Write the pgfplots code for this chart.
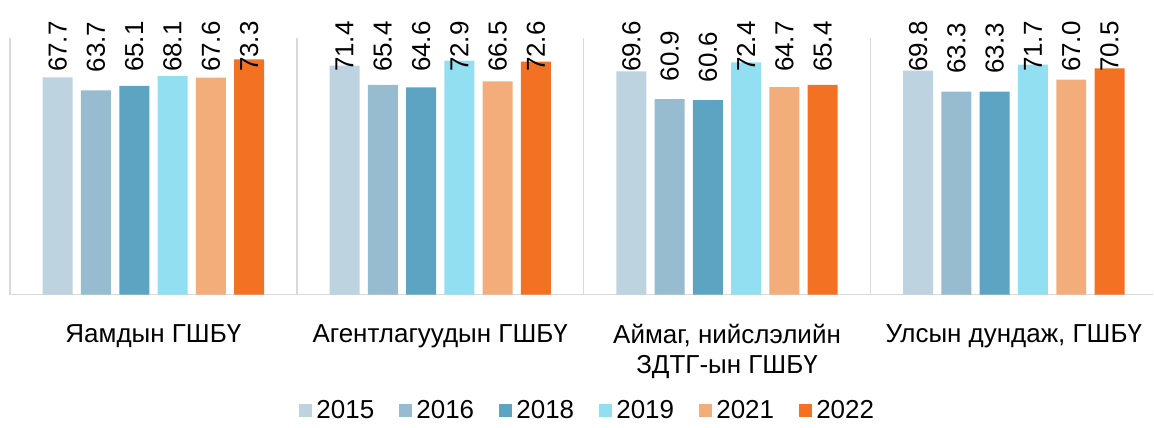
\documentclass[border=0pt]{standalone}
\usepackage{fontspec}
\setmainfont{Liberation Sans}
\usepackage{pgfplots}
\pgfplotsset{compat=1.18}

\definecolor{c2015}{RGB}{189,211,223}
\definecolor{c2016}{RGB}{151,188,208}
\definecolor{c2018}{RGB}{92,164,194}
\definecolor{c2019}{RGB}{147,223,242}
\definecolor{c2021}{RGB}{242,173,122}
\definecolor{c2022}{RGB}{242,113,34}
\definecolor{gridgray}{RGB}{217,217,217}

\begin{document}
\begin{tikzpicture}
\begin{axis}[
  x=143.5pt, y=1.605pt,
  xmin=-0.5, xmax=3.486, ymin=0, ymax=80,
  ybar=4.15pt, bar width=15pt,
  axis x line*=bottom, axis y line=none,
  axis line style={draw=gridgray, line width=0.8pt, -},
  xtick={0,1,2,3},
  xticklabels={Яамдын ГШБҮ, Агентлагуудын ГШБҮ, {Аймаг, нийслэлийн\\ЗДТГ-ын ГШБҮ}, {Улсын дундаж, ГШБҮ}},
  xtick style={draw=none},
  xticklabel style={align=center, font=\fontsize{13}{15}\selectfont, yshift=-7pt},
  extra x ticks={-0.5,0.5,1.5,2.5},
  extra x tick labels={,,,},
  extra x tick style={grid=major, major grid style={draw=gridgray, line width=0.8pt}, xtick style={draw=none}},
  clip=false,
  % labels sit 8.8pt above the bar, but are pushed down near the top
  visualization depends on={8.8-max(rawy-63.8,0)*1.605 \as \labsh},
  nodes near coords={\pgfmathprintnumber[fixed,fixed zerofill,precision=1]{\pgfplotspointmeta}},
  nodes near coords style={rotate=90, anchor=west, inner sep=0pt, xshift=\labsh pt, font=\fontsize{13}{15}\selectfont, text=black},
  /pgf/number format/assume math mode=true,
  legend style={at={(0.506,-0.452)}, anchor=center, draw=none, inner sep=1pt,
    legend columns=-1, font=\fontsize{13}{15}\selectfont,
    /tikz/every even column/.append style={column sep=10.3pt}},
  legend image code/.code={\draw[#1, draw=none] (0pt,-3.4pt) rectangle (6.8pt,3.4pt);},
]
\addplot[fill=c2015, draw=none] coordinates {(0,67.7) (1,71.4) (2,69.6) (3,69.8)};
\addlegendentry{2015}
\addplot[fill=c2016, draw=none] coordinates {(0,63.7) (1,65.4) (2,60.9) (3,63.3)};
\addlegendentry{2016}
\addplot[fill=c2018, draw=none] coordinates {(0,65.1) (1,64.6) (2,60.6) (3,63.3)};
\addlegendentry{2018}
\addplot[fill=c2019, draw=none] coordinates {(0,68.1) (1,72.9) (2,72.4) (3,71.7)};
\addlegendentry{2019}
\addplot[fill=c2021, draw=none] coordinates {(0,67.6) (1,66.5) (2,64.7) (3,67.0)};
\addlegendentry{2021}
\addplot[fill=c2022, draw=none] coordinates {(0,73.3) (1,72.6) (2,65.4) (3,70.5)};
\addlegendentry{2022}
\coordinate (bl) at (rel axis cs:0,0);
\end{axis}
\path (bl) ++(-5pt,-63.1pt);
\path (bl) ++(-5pt,147.4pt);
\end{tikzpicture}
\end{document}
